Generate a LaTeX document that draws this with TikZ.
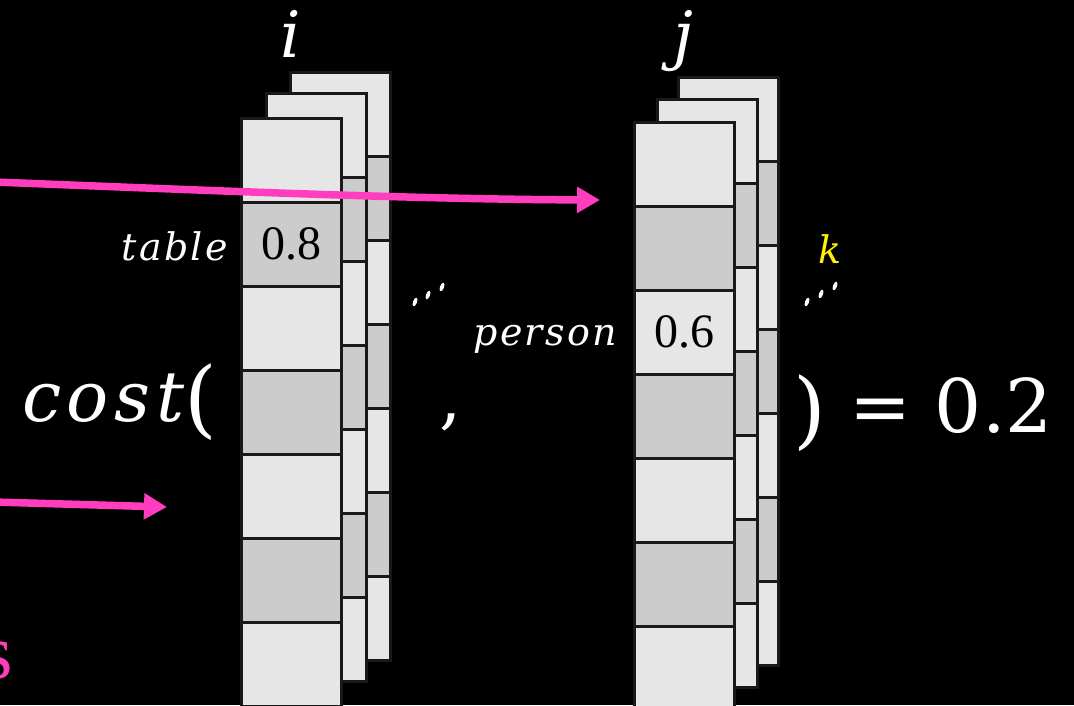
\documentclass[tikz,border=0pt]{standalone}
\usepackage{fontspec}
\usetikzlibrary{arrows.meta,shapes.geometric}
\newfontfamily\cmf{DejaVu Serif}
\newfontfamily\cmfi{DejaVu Serif Italic}[LetterSpace=8]
\newfontfamily\cmfim{DejaVu Serif Italic}[LetterSpace=6]
\newfontfamily\tmf{Liberation Serif}
\definecolor{cellL}{HTML}{E6E6E6}
\definecolor{cellD}{HTML}{CCCCCC}
\definecolor{hotpink}{HTML}{FF3DBE}
\tikzset{
  cellbox/.style={draw=black!90, line width=3pt, minimum width=100pt, minimum height=84pt, inner sep=0pt, outer sep=0pt},
  pinkarrow/.style={draw=hotpink, line width=7.5pt, -{Triangle[length=23pt,width=25pt]}},
  bigtxt/.style={text=white, inner sep=0pt, font=\cmfi\fontsize{70}{80}\selectfont},
  midtxt/.style={text=white, inner sep=0pt, font=\cmfim\fontsize{38}{44}\selectfont},
  numtxt/.style={text=black, inner sep=0pt, font=\tmf\fontsize{48}{54}\selectfont},
  idot/.style={fill=white, draw=none, ellipse, inner sep=0pt, minimum width=4pt, minimum height=9pt, rotate=-20}
}
\newcommand\bigparen[1]{{\cmf\fontsize{84}{90}\selectfont\raisebox{-6pt}{#1}}}
% #1 name, #2 left x, #3 top y
\newcommand\celllayer[3]{%
  \foreach \n in {1,...,7}{%
    \pgfmathsetmacro\yy{#3+(\n-1)*84+42}%
    \ifodd\n\def\cc{cellL}\else\def\cc{cellD}\fi
    \node[cellbox, fill=\cc] (#1-\n) at ({#2+50},\yy) {};
  }%
}
\begin{document}
\begin{tikzpicture}[x=1pt,y=-1pt]
\fill[black] (0,0) rectangle (1074,705);
\useasboundingbox (0,0) rectangle (1074,705);
% stack i
\celllayer{ib}{290}{72}
\celllayer{im}{266}{93}
\celllayer{if}{241}{118}
% stack j
\celllayer{jb}{678}{77}
\celllayer{jm}{657}{99}
\celllayer{jf}{634}{122}
% values
\node[numtxt] (v08) at (if-2) {0.8};
\node[numtxt] (v06) at (jf-3) {0.6};
% labels
\node[midtxt, anchor=base east] (ltable) at (228,260) {table};
\node[midtxt, anchor=base east] (lperson) at (617,345) {person};
\node[midtxt, text=yellow, anchor=base] (lk) at (830,263) {k};
\node[bigtxt, font=\cmfi\fontsize{64}{70}\selectfont, anchor=base] (li) at (291,57) {i};
\node[bigtxt, font=\cmfi\fontsize{64}{70}\selectfont, anchor=base] (lj) at (683,57) {j};
\node[bigtxt, anchor=base west] (lcost) at (22,421) {cost\bigparen{(}};
\node[bigtxt, font=\cmf\fontsize{70}{80}\selectfont, anchor=base] (lcomma) at (451,421) {,};
\node[bigtxt, font=\cmf\fontsize{74}{82}\selectfont, anchor=base west] (lres) at (793,432) {\bigparen{)} = 0.2};
\node[text=hotpink, inner sep=0pt, font=\tmf\fontsize{78}{86}\selectfont, anchor=base west] (ls) at (-18,678) {s};
% diagonal dots
\node[idot] (d1a) at (415,302) {};
\node[idot] (d1b) at (428,295) {};
\node[idot] (d1c) at (442,287) {};
\node[idot] (d2a) at (807,302) {};
\node[idot] (d2b) at (821,294) {};
\node[idot] (d2c) at (835,286) {};
% arrows
\coordinate (a1s) at (-6,182);
\coordinate (a1e) at (600,200);
\coordinate (a2s) at (-6,502);
\coordinate (a2e) at (167,507);
\draw[pinkarrow] (a1s) .. controls (200,190) and (400,199) .. (a1e);
\draw[pinkarrow] (a2s) -- (a2e);
\end{tikzpicture}
\end{document}
